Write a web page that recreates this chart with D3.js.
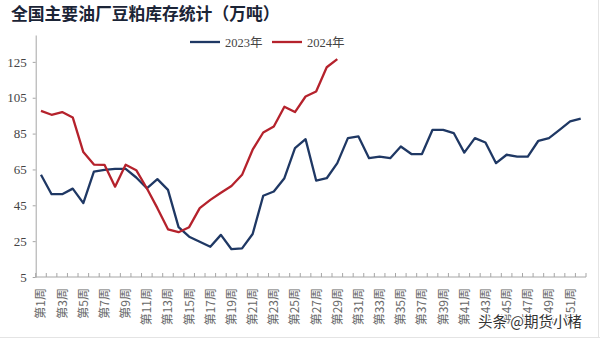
<!DOCTYPE html>
<html>
<head>
<meta charset="utf-8">
<script src="https://cdn.jsdelivr.net/npm/d3@7/dist/d3.min.js"></script>
<style>
  html, body { margin: 0; padding: 0; background: #fff; }
  svg { display: block; }
</style>
</head>
<body>
<div id="chart"></div>
<script>
// Weekly soybean-meal stocks at major oil mills (10k tonnes)
const weeks = d3.range(1, 53).map(w => "第" + w + "周");
const stock2023 = [62, 51.2, 51.2, 54.3, 46.2, 63.8, 64.8, 65.3, 65.3, 60.5,
  54.5, 59.6, 53.6, 32.8, 27.5, 24.7, 21.9, 28.5, 20.5, 21,
  29, 50.3, 52.7, 60.1, 76.9, 81.9, 58.8, 60.1, 68.5, 82.5,
  83.4, 71.3, 72.2, 71.3, 77.8, 73.6, 73.6, 87.1, 87.1, 85.3,
  74.4, 82.5, 80, 68.5, 73.2, 72.2, 72.2, 81, 82.5, 87.1,
  91.8, 93.3];
const stock2024 = [97.7, 95.5, 97, 94, 74.7, 67.7, 67.6, 55.4, 67.6, 64.6,
  54.5, 43.4, 31.6, 30, 32.8, 43.4, 48, 52, 55.8, 62,
  76, 85.6, 89, 100, 97, 105.7, 108.5, 122, 126.5];
const yTicks = [5, 25, 45, 65, 85, 105, 125];
const seriesNames = ["2023年", "2024年"];
const seriesColors = ["#1f3864", "#b5222c"];

const W = 600, H = 338;
const svg = d3.select("#chart").append("svg").attr("width", W).attr("height", H);

const x = d3.scaleBand().domain(weeks).range([35.7, 586]).padding(0);
const y = d3.scaleLinear().domain([5, 140]).range([277, 35]);
const cx = w => x(w) + x.bandwidth() / 2;

// title
svg.append("text")
  .attr("x", 11).attr("y", 20)
  .attr("font-family", "'Noto Sans CJK SC', sans-serif")
  .attr("font-weight", 700).attr("font-size", 16.8)
  .attr("fill", "#1b2436")
  .text("全国主要油厂豆粕库存统计（万吨）");

// y axis
const yAxis = svg.append("g").attr("transform", "translate(35.7,0)")
  .call(d3.axisLeft(y).tickValues(yTicks).tickSize(3).tickPadding(6).tickSizeOuter(0));
yAxis.select(".domain").attr("stroke", "#a6a6a6");
yAxis.selectAll(".tick line").attr("stroke", "#a6a6a6");
yAxis.selectAll(".tick text")
  .attr("font-family", "'Liberation Serif', serif").attr("font-size", 13)
  .attr("fill", "#444");

// x axis: line, inward ticks at band edges, labels on odd weeks
const xg = svg.append("g").attr("transform", "translate(0,277)");
xg.append("line").attr("x1", x.range()[0]).attr("x2", x.range()[1])
  .attr("stroke", "#a6a6a6");
const edges = weeks.map(w => x(w)).concat([x.range()[1]]);
xg.selectAll("line.tk").data(edges).join("line").attr("class", "tk")
  .attr("x1", d => d).attr("x2", d => d).attr("y1", 0).attr("y2", -4)
  .attr("stroke", "#a6a6a6");
xg.append("g").attr("opacity", 0.99)
  .selectAll("text").data(weeks.filter((w, i) => i % 2 === 0)).join("text")
  .attr("transform", w => `translate(${cx(w) + 4.5},${11}) rotate(-90)`)
  .attr("text-anchor", "end")
  .attr("font-family", "'Noto Sans CJK SC', sans-serif")
  .attr("font-size", 12).attr("fill", "#666")
  .text(w => w);

// series lines
const line = d3.line().x((d, i) => cx(weeks[i])).y(d => y(d));
[stock2023, stock2024].forEach((s, k) => {
  svg.append("path").datum(s)
    .attr("d", line).attr("fill", "none")
    .attr("stroke", seriesColors[k]).attr("stroke-width", 2.3)
    .attr("stroke-linejoin", "round");
});

// legend
const legendX = [190, 272];
seriesNames.forEach((name, k) => {
  const g = svg.append("g").attr("transform", `translate(${legendX[k]},42)`);
  g.append("line").attr("x1", 0).attr("x2", 30).attr("stroke", seriesColors[k]).attr("stroke-width", 2.3);
  g.append("text").attr("x", 35).attr("y", 4.5)
    .attr("font-family", "'Liberation Serif', 'Noto Sans CJK SC', serif")
    .attr("font-size", 12.5).attr("fill", "#444").text(name);
});

// frame edges
svg.append("line").attr("x1", 598.5).attr("x2", 598.5).attr("y1", 0).attr("y2", H).attr("stroke", "#e4e4e4");
svg.append("line").attr("x1", 0).attr("x2", W).attr("y1", 337.5).attr("y2", 337.5).attr("stroke", "#e4e4e4");

// watermark
svg.append("text").attr("x", 478).attr("y", 327)
  .attr("font-family", "'Noto Sans CJK SC', sans-serif").attr("font-size", 14.5)
  .attr("fill", "#333").attr("stroke", "#fff").attr("stroke-width", 2.5)
  .attr("paint-order", "stroke")
  .text("头条 @期货小楮");
</script>
</body>
</html>
